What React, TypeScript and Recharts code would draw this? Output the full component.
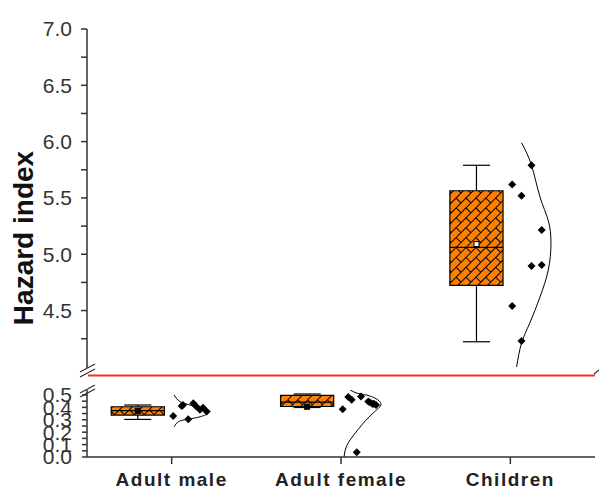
import { ComposedChart, XAxis, YAxis, Line, Scatter, ReferenceArea, ReferenceLine } from "recharts";

const groups = ["Adult male", "Adult female", "Children"];

// box statistics per group (male, female, children)
const whiskerLow = [0.303, 0.399, 4.223];
const q1 = [0.338, 0.407, 4.724];
const median = [0.373, 0.443, 5.061];
const q3 = [0.405, 0.496, 5.564];
const whiskerHigh = [0.419, 0.508, 5.79];
const means = [0.372, 0.405, 5.09];

// raw points: x offset from group centre, value
const maleOffsets = [0.059, 0.009, 0.098, 0.128, 0.167, 0.207, 0.185, 0.144, 0.067];
const maleValues = [0.412, 0.331, 0.304, 0.434, 0.38, 0.366, 0.396, 0.41, 0.42];
const femaleOffsets = [0.043, 0.063, 0.01, 0.118, 0.161, 0.187, 0.207, 0.093, 0.172, 0.195];
const femaleValues = [0.483, 0.461, 0.385, 0.488, 0.447, 0.428, 0.42, 0.039, 0.44, 0.43];
const childOffsets = [0.125, 0.011, 0.066, 0.185, 0.125, 0.185, 0.011, 0.066];
const childValues = [5.79, 5.62, 5.52, 5.215, 4.895, 4.905, 4.54, 4.23];

// fitted normal curves
const maleCurveOffsets = [0.015, 0.049, 0.108, 0.167, 0.216, 0.167, 0.089, 0.039, 0.015];
const maleCurveValues = [0.5, 0.446, 0.419, 0.392, 0.36, 0.324, 0.303, 0.284, 0.243];
const femaleCurveOffsets = [0.024, 0.083, 0.148, 0.207, 0.236, 0.219, 0.171, 0.124, 0.077, 0.041, 0.024, 0.018];
const femaleCurveValues = [0.57, 0.52, 0.5, 0.47, 0.43, 0.39, 0.33, 0.26, 0.18, 0.11, 0.05, 0.0];
const childCurveOffsets = [0.066, 0.125, 0.175, 0.224, 0.24, 0.224, 0.175, 0.115, 0.066, 0.037];
const childCurveValues = [5.99, 5.79, 5.51, 5.3, 5.097, 4.86, 4.62, 4.39, 4.21, 4.0];

const upperTicks = [4.25, 4.5, 4.75, 5.0, 5.25, 5.5, 5.75, 6.0, 6.25, 6.5, 6.75, 7.0];
const lowerTicks = [0, 0.05, 0.1, 0.15, 0.2, 0.25, 0.3, 0.35, 0.4, 0.45, 0.5];

const FONT = "'Liberation Sans', Arial, sans-serif";
const ORANGE = "#ff8000";
const BOX_SHIFT = -0.2;
const BOX_HALF = 0.157;
const CAP_HALF = 0.08;

const toPoints = (pos: number, offs: number[], vals: number[]) =>
  offs.map((o, i) => ({ x: pos + o, y: vals[i] }));

const Diamond = (props: any) => {
  const { cx, cy } = props;
  return <path d={`M${cx},${cy - 4}L${cx + 4},${cy}L${cx},${cy + 4}L${cx - 4},${cy}Z`} fill="#000" />;
};

const MeanMark = (props: any) => {
  const { cx, cy } = props;
  return <rect x={cx - 2.5} y={cy - 2.5} width={5} height={5} fill="#fff" stroke="#000" strokeWidth={1} />;
};

// on the thin adult boxes the mean marker reads as a black dot
const MeanDot = (props: any) => {
  const { cx, cy } = props;
  return <rect x={cx - 2.5} y={cy - 2.5} width={5} height={5} fill="#000" stroke="#000" strokeWidth={1} />;
};

const BrickPattern = ({ id }: { id: string }) => (
  <defs>
    <pattern id={id} width="14" height="14" patternUnits="userSpaceOnUse" patternTransform="rotate(-45)">
      <rect width="14" height="14" fill={ORANGE} />
      <path d="M0,0.5H14M0,7.5H14M0.5,0V7M7.5,7V14" stroke="#000" strokeWidth="1" fill="none" />
    </pattern>
  </defs>
);

// box + whiskers for group i
const renderBox = (i: number, fillId: string) => {
  const c = i + 1 + BOX_SHIFT;
  const ln = { stroke: "#000", strokeWidth: 1.2, ifOverflow: "visible" as const };
  return [
    <ReferenceLine key={`wl${i}`} segment={[{ x: c, y: whiskerLow[i] }, { x: c, y: q1[i] }]} {...ln} />,
    <ReferenceLine key={`wh${i}`} segment={[{ x: c, y: q3[i] }, { x: c, y: whiskerHigh[i] }]} {...ln} />,
    <ReferenceLine key={`cl${i}`} segment={[{ x: c - CAP_HALF, y: whiskerLow[i] }, { x: c + CAP_HALF, y: whiskerLow[i] }]} {...ln} />,
    <ReferenceLine key={`ch${i}`} segment={[{ x: c - CAP_HALF, y: whiskerHigh[i] }, { x: c + CAP_HALF, y: whiskerHigh[i] }]} {...ln} />,
    <ReferenceArea
      key={`b${i}`}
      x1={c - BOX_HALF}
      x2={c + BOX_HALF}
      y1={q1[i]}
      y2={q3[i]}
      fill={`url(#${fillId})`}
      fillOpacity={1}
      stroke="#000"
      strokeWidth={1.2}
      ifOverflow="visible"
    />,
    <ReferenceLine key={`m${i}`} segment={[{ x: c - BOX_HALF, y: median[i] }, { x: c + BOX_HALF, y: median[i] }]} {...ln} />,
  ];
};

const xDomain = [0.5, 3.5];

export default function App() {
  const childPts = toPoints(3, childOffsets, childValues);
  const malePts = toPoints(1, maleOffsets, maleValues);
  const femalePts = toPoints(2, femaleOffsets, femaleValues);
  const childCurve = toPoints(3, childCurveOffsets, childCurveValues);
  const maleCurve = toPoints(1, maleCurveOffsets, maleCurveValues);
  const femaleCurve = toPoints(2, femaleCurveOffsets, femaleCurveValues);
  const upperMean = [{ x: 3 + BOX_SHIFT, y: means[2] }];
  const lowerMean = [
    { x: 1 + BOX_SHIFT, y: means[0] },
    { x: 2 + BOX_SHIFT, y: means[1] },
  ];

  const tickStyle = { fontSize: 21, fill: "#333", fontFamily: FONT };
  const axisLine = { stroke: "#333", strokeWidth: 1.5 };

  return (
    <div style={{ position: "absolute", left: 0, top: 0, width: 599, height: 493, background: "#fff", fontFamily: FONT }}>
      <div style={{ position: "absolute", left: 0, top: 0 }}>
        <ComposedChart width={599} height={380} margin={{ top: 29, right: 4, bottom: 12, left: 0 }}>
          <BrickPattern id="brickU" />
          <XAxis dataKey="x" type="number" domain={xDomain} allowDataOverflow hide />
          <YAxis
            dataKey="y"
            type="number"
            domain={[3.99, 7.0]}
            allowDataOverflow
            ticks={upperTicks}
            interval={0}
            width={87}
            tickSize={6}
            tickMargin={9}
            tick={tickStyle}
            tickLine={axisLine}
            axisLine={axisLine}
            tickFormatter={(v: number) => (Math.round(v * 100) % 50 === 0 ? v.toFixed(1) : "")}
          />
          {renderBox(2, "brickU")}
          <Scatter data={upperMean} dataKey="y" shape={MeanMark} isAnimationActive={false} />
          <Scatter data={childPts} dataKey="y" shape={Diamond} isAnimationActive={false} />
          <Line data={childCurve} dataKey="y" type="natural" dot={false} stroke="#000" strokeWidth={1} isAnimationActive={false} />
        </ComposedChart>
      </div>
      <div style={{ position: "absolute", left: 0, top: 380 }}>
        <ComposedChart width={599} height={113} margin={{ top: 10, right: 4, bottom: 0, left: 0 }}>
          <BrickPattern id="brickL" />
          <XAxis
            dataKey="x"
            type="number"
            domain={xDomain}
            allowDataOverflow
            ticks={[1, 2, 3]}
            height={36}
            tickSize={7}
            tickMargin={9}
            tickLine={axisLine}
            axisLine={axisLine}
            tick={{ fontSize: 19, fontWeight: "bold", fill: "#222", fontFamily: FONT, letterSpacing: 1.5 }}
            tickFormatter={(v: number) => groups[v - 1]}
          />
          <YAxis
            dataKey="y"
            type="number"
            domain={[0, 0.54]}
            allowDataOverflow
            ticks={lowerTicks}
            interval={0}
            width={87}
            tickSize={5}
            tickMargin={10}
            tick={tickStyle}
            tickLine={axisLine}
            axisLine={axisLine}
            tickFormatter={(v: number) => (Math.round(v * 100) % 10 === 0 ? v.toFixed(1) : "")}
          />
          {renderBox(0, "brickL")}
          {renderBox(1, "brickL")}
          <Scatter data={lowerMean} dataKey="y" shape={MeanDot} isAnimationActive={false} />
          <Scatter data={malePts} dataKey="y" shape={Diamond} isAnimationActive={false} />
          <Scatter data={femalePts} dataKey="y" shape={Diamond} isAnimationActive={false} />
          <Line data={maleCurve} dataKey="y" type="natural" dot={false} stroke="#000" strokeWidth={1} isAnimationActive={false} />
          <Line data={femaleCurve} dataKey="y" type="natural" dot={false} stroke="#000" strokeWidth={1} isAnimationActive={false} />
        </ComposedChart>
      </div>
      <svg width={599} height={493} style={{ position: "absolute", left: 0, top: 0, pointerEvents: "none" }}>
        {/* threshold line across the axis break */}
        <line x1={88} y1={375.5} x2={595} y2={375.5} stroke="#ff2a2a" strokeWidth={2} />
        {/* axis break marks */}
        <g stroke="#333" strokeWidth={1.3}>
          <line x1={80} y1={372} x2={95} y2={364} />
          <line x1={80} y1={377} x2={95} y2={369} />
          <line x1={80} y1={393} x2={95} y2={385} />
          <line x1={80} y1={397} x2={95} y2={389} />
          <line x1={594} y1={374} x2={599} y2={370} />
        </g>
        <text
          transform="translate(33,238) rotate(-90)"
          textAnchor="middle"
          fontFamily={FONT}
          fontWeight="bold"
          fontSize={28}
          fill="#111"
        >
          Hazard index
        </text>
      </svg>
    </div>
  );
}
